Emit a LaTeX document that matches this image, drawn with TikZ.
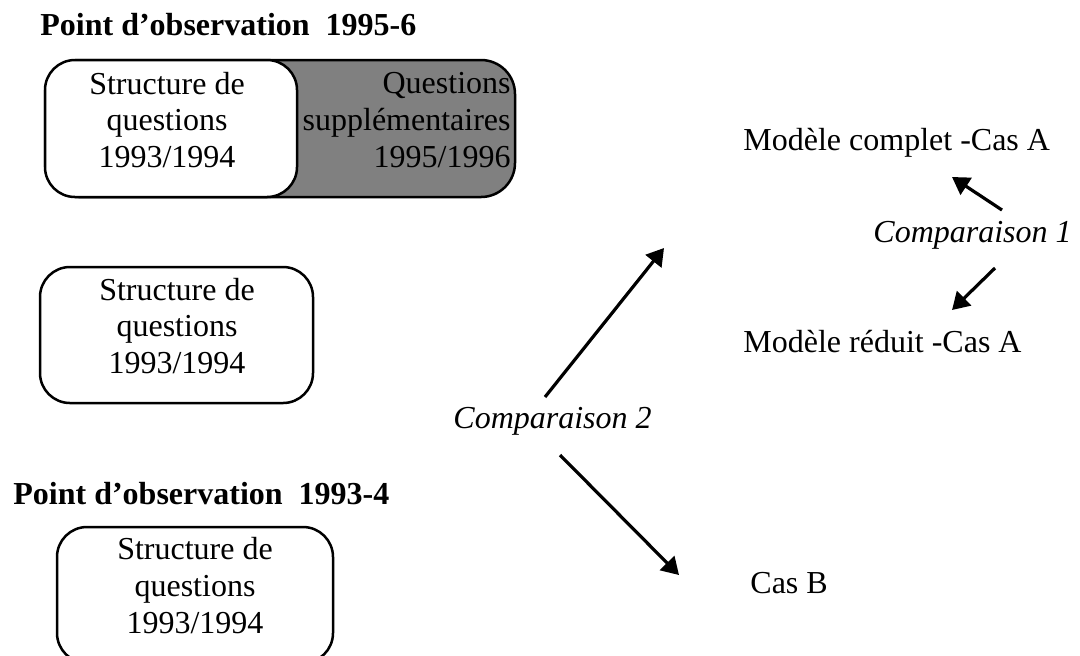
\documentclass[tikz,border=0pt]{standalone}
\usepackage{fontspec}
\setmainfont{Liberation Serif}
\usetikzlibrary{arrows.meta}
\begin{document}
\begin{tikzpicture}[x=0.5pt,y=-0.5pt]
\tikzset{
 txtbase/.style={inner sep=0pt, font=\fontsize{16pt}{18.35pt}\selectfont},
 lbl/.style={txtbase, anchor=base west},
 ttl/.style={lbl, font=\fontsize{16pt}{18.35pt}\selectfont\bfseries},
 cmp/.style={lbl, font=\fontsize{16pt}{18.35pt}\selectfont\itshape},
 qbox/.style={draw, line width=1.25pt, rounded corners=15pt, fill=white, inner sep=0pt, outer sep=0pt},
 graybox/.style={qbox, fill=black!50, rounded corners=17pt},
 boxtxt/.style={txtbase, align=center},
 arr/.style={line width=1.6pt, -{Triangle[length=8.5pt,width=10pt]}},
}
\clip (0,0) rectangle (1080,655);
\fill[white] (0,0) rectangle (1080,655);

% titles
\node[ttl] (title1) at (40,35) {Point d'observation\hspace{0.5em}1995-6};
\node[ttl] (title2) at (13,504) {Point d'observation\hspace{0.5em}1993-4};

% top box
\node[graybox, minimum width=235pt, minimum height=68.5pt] (b1) at (280,128.5) {};
\node[qbox, minimum width=126pt, minimum height=68.5pt] (b1w) at (171,128.5) {};
\node[boxtxt] (t1) at (167,120) {Structure de\\questions\\1993/1994};
\node[txtbase, align=right, anchor=east] (g1) at (511,120) {Questions\\supplémentaires\\1995/1996};

% second box
\node[qbox, minimum width=136.5pt, minimum height=68pt] (b2) at (176.5,335) {};
\node[boxtxt] (t2) at (177,326) {Structure de\\questions\\1993/1994};

% third box
\node[qbox, minimum width=138pt, minimum height=68pt] (b3) at (195,595) {};
\node[boxtxt] (t3) at (195,585.5) {Structure de\\questions\\1993/1994};

% right-hand labels
\node[lbl] (mc) at (743,150) {Modèle complet -Cas A};
\node[cmp] (cmp1) at (873,242) {Comparaison 1};
\node[lbl] (mr) at (743,352) {Modèle réduit -Cas A};
\node[cmp] (cmp2) at (453,428) {Comparaison 2};
\node[lbl] (cb) at (750,593) {Cas B};

% arrow end points
\coordinate (c2a) at (545,397); \coordinate (c2b) at (664,248);
\coordinate (c2c) at (560,455); \coordinate (c2d) at (679,575);
\coordinate (c1a) at (1002,210); \coordinate (c1b) at (952,177);
\coordinate (c1c) at (995,268); \coordinate (c1d) at (952,310);

\draw[arr] (c2a) -- (c2b);
\draw[arr] (c2c) -- (c2d);
\draw[arr] (c1a) -- (c1b);
\draw[arr] (c1c) -- (c1d);
\end{tikzpicture}
\end{document}
